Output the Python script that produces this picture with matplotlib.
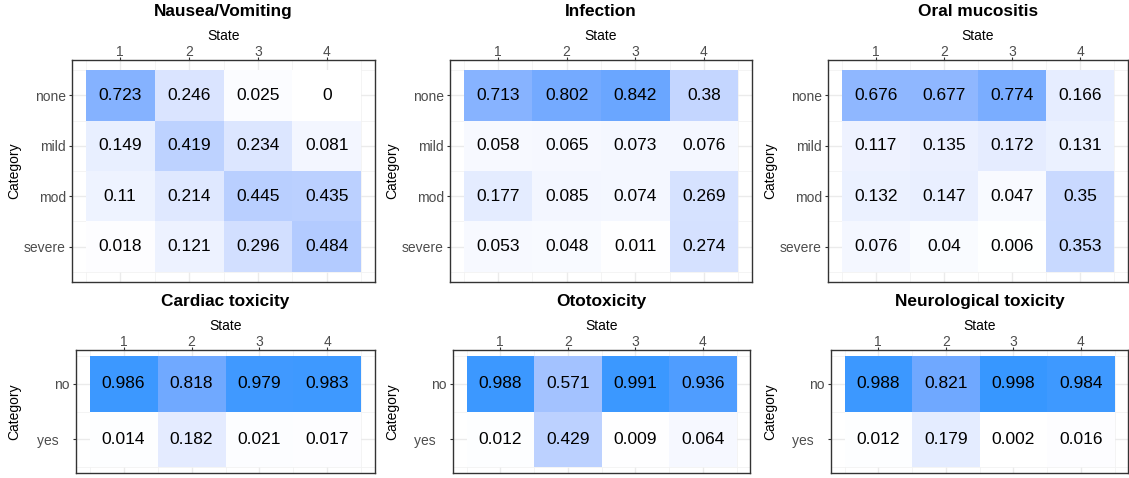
import numpy as np
import matplotlib
matplotlib.use('Agg')
import matplotlib.pyplot as plt
from matplotlib.colors import ListedColormap
from matplotlib.ticker import FixedLocator

plt.rcParams['font.family'] = ['Liberation Sans', 'DejaVu Sans']

# Datos
estados = [1, 2, 3, 4]
cat_grado = ['none', 'mild', 'mod', 'severe']
cat_sino = ['no', 'yes   ']

nausea = [[0.723, 0.246, 0.025, 0],
          [0.149, 0.419, 0.234, 0.081],
          [0.11, 0.214, 0.445, 0.435],
          [0.018, 0.121, 0.296, 0.484]]
infeccion = [[0.713, 0.802, 0.842, 0.38],
             [0.058, 0.065, 0.073, 0.076],
             [0.177, 0.085, 0.074, 0.269],
             [0.053, 0.048, 0.011, 0.274]]
mucositis = [[0.676, 0.677, 0.774, 0.166],
             [0.117, 0.135, 0.172, 0.131],
             [0.132, 0.147, 0.047, 0.35],
             [0.076, 0.04, 0.006, 0.353]]
cardiaca = [[0.986, 0.818, 0.979, 0.983],
            [0.014, 0.182, 0.021, 0.017]]
ototox = [[0.988, 0.571, 0.991, 0.936],
          [0.012, 0.429, 0.009, 0.064]]
neuro = [[0.988, 0.821, 0.998, 0.984],
         [0.012, 0.179, 0.002, 0.016]]

# titulo, datos, categorias, caja del panel en pixeles, x del titulo del eje y
paneles = [
    ('Nausea/Vomiting', nausea, cat_grado, (72, 60, 375, 282), 21),
    ('Infection', infeccion, cat_grado, (450, 60, 752, 282), 399),
    ('Oral mucositis', mucositis, cat_grado, (828, 60, 1128, 282), 777),
    ('Cardiac toxicity', cardiaca, cat_sino, (76, 350, 375, 473), 21),
    ('Ototoxicity', ototox, cat_sino, (453, 350, 750, 473), 399),
    ('Neurological toxicity', neuro, cat_sino, (831, 350, 1128, 473), 777),
]


# Gradiente blanco -> azul interpolado en Lab (como ggplot)
def a_lab(rgb):
    rgb = np.asarray(rgb, float)
    lin = np.where(rgb <= 0.04045, rgb / 12.92, ((rgb + 0.055) / 1.055) ** 2.4)
    M = np.array([[0.4124, 0.3576, 0.1805],
                  [0.2126, 0.7152, 0.0722],
                  [0.0193, 0.1192, 0.9505]])
    xyz = M @ lin / np.array([0.95047, 1.0, 1.08883])
    f = np.where(xyz > 0.008856, np.cbrt(xyz), 7.787 * xyz + 16 / 116)
    return np.array([116 * f[1] - 16, 500 * (f[0] - f[1]), 200 * (f[1] - f[2])])


def de_lab(lab):
    fy = (lab[0] + 16) / 116
    fx = fy + lab[1] / 500
    fz = fy - lab[2] / 200
    f = np.array([fx, fy, fz])
    xyz = np.where(f ** 3 > 0.008856, f ** 3, (f - 16 / 116) / 7.787)
    xyz = xyz * np.array([0.95047, 1.0, 1.08883])
    Mi = np.array([[3.2406, -1.5372, -0.4986],
                   [-0.9689, 1.8758, 0.0415],
                   [0.0557, -0.2040, 1.0570]])
    lin = Mi @ xyz
    rgb = np.where(lin <= 0.0031308, 12.92 * lin, 1.055 * np.abs(lin) ** (1 / 2.4) - 0.055)
    return np.clip(rgb, 0, 1)


bajo = a_lab([1.0, 1.0, 1.0])
alto = a_lab([55 / 255, 151 / 255, 1.0])
colores = [de_lab(bajo + t * (alto - bajo)) for t in np.linspace(0, 1, 256)]
cmap = ListedColormap(colores)

W, H = 1129, 478
fig = plt.figure(figsize=(W / 100, H / 100), dpi=100)

for titulo, datos, cats, (x0, y0, x1, y1), xlab in paneles:
    datos = np.array(datos)
    n = len(cats)
    ax = fig.add_axes([x0 / W, (H - y1) / H, (x1 - x0) / W, (y1 - y0) / H])
    xe = np.arange(0.5, 4.6, 1.0)
    ye = np.arange(0.5, n + 0.6, 1.0)
    ax.pcolormesh(xe, ye, datos, cmap=cmap, vmin=0, vmax=1, zorder=2)
    for i in range(n):
        for j in range(4):
            ax.text(estados[j], i + 1, f'{datos[i, j]:g}', ha='center', va='center',
                    fontsize=12.5, color='black', zorder=3)
    ax.set_xlim(0.3, 4.7)
    ax.set_ylim(n + 0.5 + 0.05 * n, 0.5 - 0.05 * n)
    ax.set_xticks(estados)
    ax.set_yticks(range(1, n + 1))
    ax.set_yticklabels(cats)
    ax.xaxis.set_minor_locator(FixedLocator(np.arange(0.5, 4.6, 1.0)))
    ax.yaxis.set_minor_locator(FixedLocator(ye))
    ax.xaxis.tick_top()
    ax.xaxis.set_label_position('top')
    ax.grid(which='major', color='#EBEBEB', linewidth=1.0, zorder=0)
    ax.grid(which='minor', color='#F2F2F2', linewidth=0.6, zorder=0)
    ax.set_axisbelow(True)
    ax.tick_params(which='major', length=2.3, width=0.8, color='#333333',
                   labelsize=10, labelcolor='#4D4D4D', pad=2)
    ax.tick_params(axis='x', which='major', pad=-1.3)
    ax.tick_params(which='minor', length=0)
    for s in ax.spines.values():
        s.set_color('#333333')
        s.set_linewidth(1.0)
    ax.set_xlabel('State', fontsize=10, labelpad=3.5)
    ax.set_ylabel('Category', fontsize=10)
    ax.yaxis.set_label_coords(xlab / W, (H - (y0 + y1) / 2) / H, transform=fig.transFigure)
    ax.set_title(titulo, fontsize=12.4, fontweight='bold', pad=9)

fig.savefig('out.png', dpi=100)
